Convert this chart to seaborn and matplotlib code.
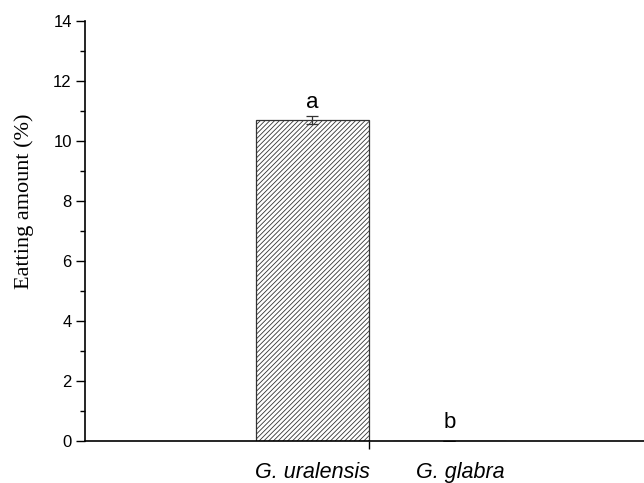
import matplotlib
matplotlib.use("Agg")
import matplotlib.pyplot as plt
import matplotlib.transforms as mtransforms
import seaborn as sns
import pandas as pd
from matplotlib.ticker import MultipleLocator

species = ["G. uralensis", "G. glabra"]
values = [10.7, 0.0]
errors = [0.13, 0.0]
letters = ["a", "b"]
letter_y = [11.1, 0.43]

sns.set_theme(style="ticks")
plt.rcParams["font.family"] = ["Liberation Sans", "DejaVu Sans"]
plt.rcParams["hatch.linewidth"] = 0.6
plt.rcParams["hatch.color"] = "#3a3a3a"
plt.rcParams["text.color"] = "black"
plt.rcParams["axes.labelcolor"] = "black"
plt.rcParams["xtick.color"] = "black"
plt.rcParams["ytick.color"] = "black"

df = pd.DataFrame({"species": species, "value": values})

fig = plt.figure(figsize=(6.44, 4.83), dpi=100)
ax = fig.add_axes([85 / 644, 1 - 441 / 483, 1 - 85 / 644, (441 - 21) / 483])

bar_w = 0.83
sns.barplot(data=df, x="species", y="value", ax=ax, width=bar_w, color="white",
            edgecolor="#333333", linewidth=0.9, hatch="///////", errorbar=None,
            saturation=1)
ax.errorbar(range(len(species)), values, yerr=errors, fmt="none",
            ecolor="#333333", elinewidth=0.9, capsize=4, capthick=0.9)

for i, (t, y) in enumerate(zip(letters, letter_y)):
    ax.text(i, y, t, ha="center", va="baseline", fontsize=16, color="black")

ax.set_xlim(-1.66, 2.42)
ax.set_ylim(0, 14)
ax.yaxis.set_major_locator(MultipleLocator(2))
ax.yaxis.set_minor_locator(MultipleLocator(1))
ax.set_xticks([0, 1])
ax.set_xticklabels(species, fontsize=15.5, style="italic")
ax.set_xticks([bar_w / 2], minor=True)
ax.tick_params(axis="x", which="major", length=0, pad=15, labelcolor="black")
ax.tick_params(axis="x", which="minor", length=6, width=1, direction="out", color="black")
ax.tick_params(axis="y", which="major", length=6.5, width=1, direction="out", labelsize=12, pad=3,
               color="black", labelcolor="black")
ax.tick_params(axis="y", which="minor", length=3.6, width=1, direction="out", color="black")
# the second category label sits slightly right of its category centre
lbls = ax.get_xticklabels()
lbls[1].set_transform(lbls[1].get_transform() + mtransforms.ScaledTranslation(11 / 100, 0, fig.dpi_scale_trans))

ax.set_xlabel("")
ax.set_ylabel("Eatting amount (%)", fontsize=16, family=["Liberation Serif"], color="black")
ax.yaxis.set_label_coords(-0.092, 0.571)

for s in ["top", "right"]:
    ax.spines[s].set_visible(False)
for s in ["left", "bottom"]:
    ax.spines[s].set_linewidth(1.2)
    ax.spines[s].set_color("black")

fig.savefig("out.png", dpi=100)
